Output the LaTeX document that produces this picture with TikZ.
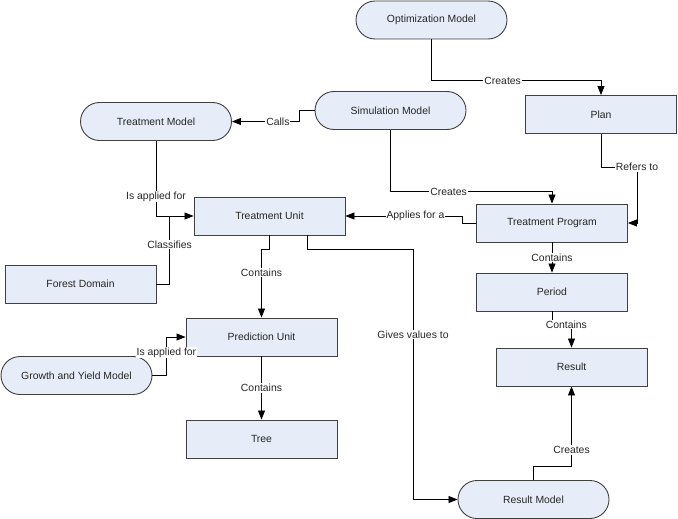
\documentclass[tikz,border=0pt]{standalone}
\usepackage{fontspec}
\setmainfont{Liberation Sans}
\usepackage{tikz}
\usetikzlibrary{arrows.meta,calc}
\definecolor{boxfill}{RGB}{230,236,248}
\tikzset{
	entity/.style={draw=black!75, line width=0.9pt, fill=boxfill, minimum width=151pt, minimum height=38pt, inner sep=0pt, font=\fontsize{10.4}{12}\selectfont, text=black!85},
	model/.style={entity, rounded corners=19pt},
	link/.style={line width=0.8pt, -{Triangle[length=9pt,width=7pt]}},
	lbl/.style={fill=white, inner sep=1pt, font=\fontsize{10.4}{12}\selectfont, text=black!85}
}

\begin{document}
\begin{tikzpicture}[x=1pt, y=-1pt]
			%%%%% START %%%%%
			\useasboundingbox (0,0) rectangle (678,519);
			
			\node[model] (optm) at (431.5, 20) {Optimization Model};
			\node[entity] (plan) at (601, 114.5) {Plan};
			\node[model] (simm) at (390.5, 110.5) {Simulation Model};
			\node[model] (trm) at (156, 121.5) {Treatment Model};
			\node[entity] (tu) at (269.5, 216) {Treatment Unit};
			\node[entity] (tp) at (552, 223) {Treatment Program};
			\node[entity] (fd) at (80.5, 284) {Forest Domain};
			\node[entity] (period) at (552, 292) {Period};
			\node[entity] (result) at (571.5, 367) {Result};
			\node[entity] (pu) at (261.5, 337) {Prediction Unit};
			\node[model] (gym) at (76.5, 375.5) {Growth and Yield Model};
			\node[entity] (tree) at (261.5, 439) {Tree};
			\node[model] (rm) at (533.5, 499.5) {Result Model};
			
			\coordinate (jn) at ($(tu.west)+(-24,0)$);
			
			\draw[link] (optm.south) -- ++(0,41) -| node[lbl, pos=0.21] {Creates} (plan.north);
			\draw[link] (simm.west) -- ++(-15,0) |- node[lbl, pos=0.66] {Calls} (trm.east);
			\draw[link] (simm.south) -- ++(0,61.5) -| node[lbl, pos=0.18] {Creates} (tp.north);
			\draw[link] (plan.south) -- ++(0,33) -- ++(36,0) node[lbl] {Refers to} |- (tp.east);
			\draw[link] (tp.west) -- ++(-14,0) |- node[lbl, pos=0.7] {Applies for a} (tu.east);
			
			\draw[link] (trm.south) |- node[lbl, pos=0.37] {Is applied for} (tu.west);
			\draw[line width=0.8pt] (fd.east) -| node[lbl, pos=0.79] {Classifies} (jn);
			
			\draw[link] (tu.south) -- ++(0,14) -| node[lbl, pos=0.67] {Contains} (pu.north);
			\draw[link] ([xshift=37.5pt]tu.south) -- ++(0,14) -- ++(106,0) |- node[lbl, pos=0.17] {Gives values to} (rm.west);
			\draw[link] (gym.east) -- ++(14,0) |- node[lbl, pos=0.3] {Is applied for} (pu.west);
			\draw[link] (pu.south) -- node[lbl] {Contains} (tree.north);
			
			\draw[link] (tp.south) -- node[lbl] {Contains} (period.north);
			\draw[link] (period.south) -- ++(0,13) -| node[lbl, pos=0.37] {Contains} (result.north);
			\draw[link] (rm.north) -- ++(0,-14) -| node[lbl, pos=0.6] {Creates} (result.south);
			
			%%%%% END %%%%%
\end{tikzpicture}
\end{document}
